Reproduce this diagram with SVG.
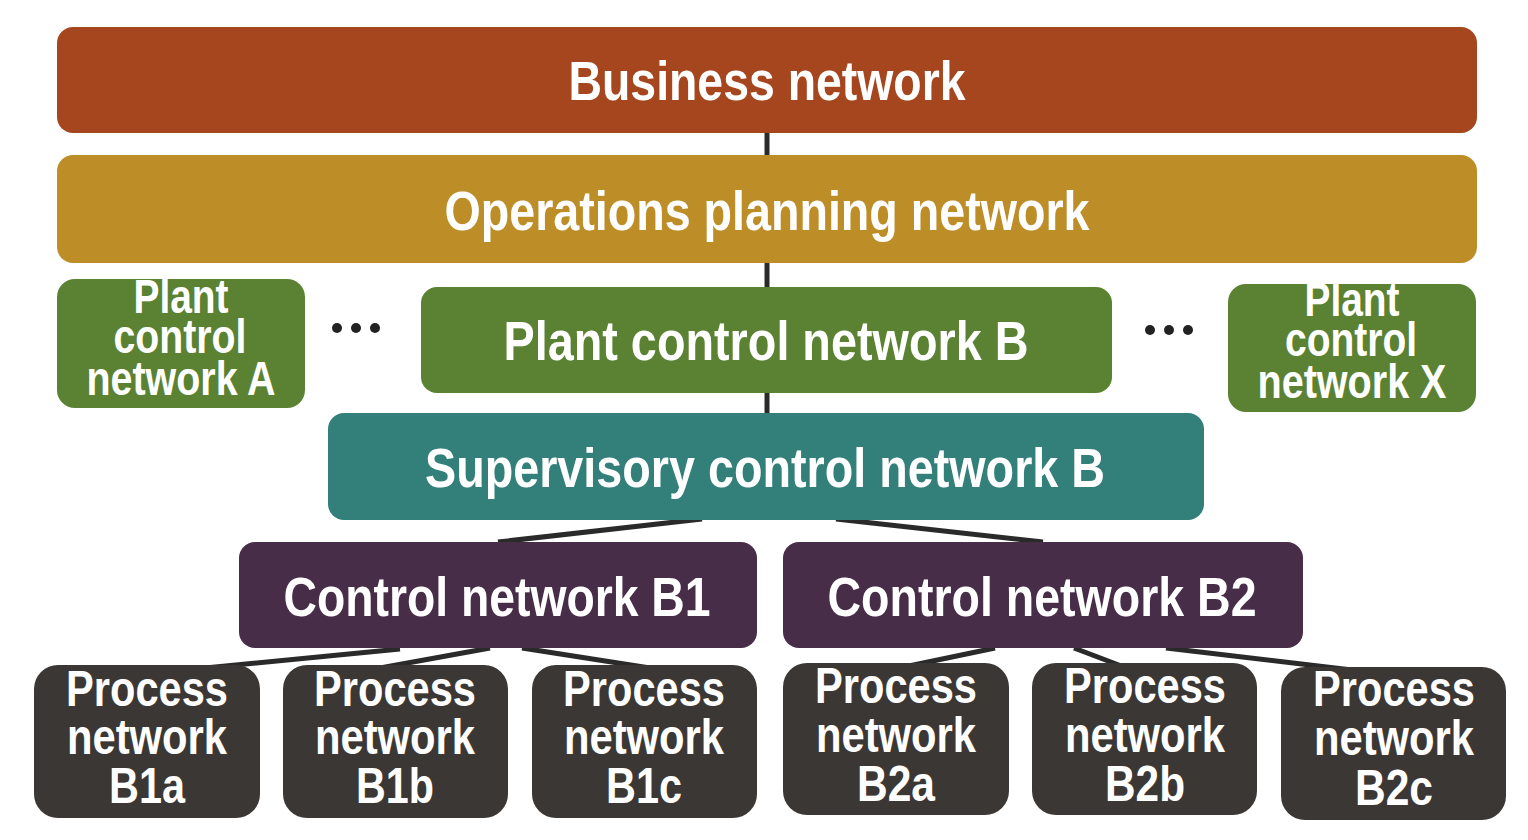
<svg xmlns="http://www.w3.org/2000/svg" width="1528" height="840" viewBox="0 0 1528 840">
<style>
.t{font-family:"Liberation Sans",Arial,sans-serif;font-weight:bold;fill:#fff;text-anchor:middle}
.big{font-size:56px}
.mid{font-size:48px}
.proc{font-size:50px}
.conn{stroke:#2a2a2a;stroke-width:5;fill:none;stroke-linecap:butt}
.dot{fill:#222}
</style>
<rect width="1528" height="840" fill="#fff"/>
<g id="connectors">
<line class="conn" x1="767" y1="120" x2="767" y2="170"/>
<line class="conn" x1="767" y1="250" x2="767" y2="300"/>
<line class="conn" x1="767" y1="380" x2="767" y2="425"/>
<line class="conn" x1="702" y1="519" x2="498" y2="542"/>
<line class="conn" x1="836" y1="519" x2="1043" y2="542"/>
<line class="conn" x1="400" y1="649" x2="205" y2="668"/>
<line class="conn" x1="490" y1="648" x2="380" y2="668"/>
<line class="conn" x1="522" y1="648" x2="650" y2="668"/>
<line class="conn" x1="995" y1="648" x2="904" y2="667"/>
<line class="conn" x1="1074" y1="648" x2="1124" y2="667"/>
<line class="conn" x1="1166" y1="648" x2="1352" y2="670"/>
</g>
<g id="business">
<rect x="57" y="27" width="1420" height="106" rx="16" fill="#A5461E"/>
<text class="t big" x="767" y="100" textLength="397" lengthAdjust="spacingAndGlyphs">Business network</text>
</g>
<g id="operations">
<rect x="57" y="155" width="1420" height="108" rx="16" fill="#BD8D28"/>
<text class="t big" x="767" y="230" textLength="645" lengthAdjust="spacingAndGlyphs">Operations planning network</text>
</g>
<g id="plantA">
<rect x="57" y="279" width="248" height="129" rx="18" fill="#5A8232"/>
<text class="t mid" x="181" y="313" textLength="95" lengthAdjust="spacingAndGlyphs">Plant</text>
<text class="t mid" x="180" y="353" textLength="133" lengthAdjust="spacingAndGlyphs">control</text>
<text class="t mid" x="181" y="395" textLength="189" lengthAdjust="spacingAndGlyphs">network A</text>
</g>
<g id="dotsLeft">
<circle class="dot" cx="337" cy="328" r="5"/>
<circle class="dot" cx="356" cy="328" r="5"/>
<circle class="dot" cx="375" cy="328" r="5"/>
</g>
<g id="plantB">
<rect x="421" y="287" width="691" height="106" rx="16" fill="#5A8232"/>
<text class="t big" x="766" y="360" textLength="525" lengthAdjust="spacingAndGlyphs">Plant control network B</text>
</g>
<g id="dotsRight">
<circle class="dot" cx="1150" cy="330" r="5"/>
<circle class="dot" cx="1169" cy="330" r="5"/>
<circle class="dot" cx="1188" cy="330" r="5"/>
</g>
<g id="plantX">
<rect x="1228" y="284" width="248" height="128" rx="18" fill="#5A8232"/>
<text class="t mid" x="1352" y="316" textLength="95" lengthAdjust="spacingAndGlyphs">Plant</text>
<text class="t mid" x="1351" y="356" textLength="132" lengthAdjust="spacingAndGlyphs">control</text>
<text class="t mid" x="1352" y="398" textLength="189" lengthAdjust="spacingAndGlyphs">network X</text>
</g>
<g id="supervisory">
<rect x="328" y="413" width="876" height="107" rx="16" fill="#33807B"/>
<text class="t big" x="765" y="487" textLength="680" lengthAdjust="spacingAndGlyphs">Supervisory control network B</text>
</g>
<g id="controlB1">
<rect x="239" y="542" width="518" height="106" rx="16" fill="#482D48"/>
<text class="t big" x="497" y="616" textLength="427" lengthAdjust="spacingAndGlyphs">Control network B1</text>
</g>
<g id="controlB2">
<rect x="783" y="542" width="520" height="106" rx="16" fill="#482D48"/>
<text class="t big" x="1042" y="616" textLength="429" lengthAdjust="spacingAndGlyphs">Control network B2</text>
</g>
<g id="processB1a">
<rect x="34" y="665" width="226" height="153" rx="24" fill="#3B3735"/>
<text class="t proc" x="147" y="706" textLength="162" lengthAdjust="spacingAndGlyphs">Process</text>
<text class="t proc" x="147" y="754" textLength="160" lengthAdjust="spacingAndGlyphs">network</text>
<text class="t proc" x="147" y="803" textLength="76" lengthAdjust="spacingAndGlyphs">B1a</text>
</g>
<g id="processB1b">
<rect x="283" y="665" width="225" height="153" rx="24" fill="#3B3735"/>
<text class="t proc" x="395" y="706" textLength="162" lengthAdjust="spacingAndGlyphs">Process</text>
<text class="t proc" x="395" y="754" textLength="160" lengthAdjust="spacingAndGlyphs">network</text>
<text class="t proc" x="395" y="803" textLength="78" lengthAdjust="spacingAndGlyphs">B1b</text>
</g>
<g id="processB1c">
<rect x="532" y="665" width="225" height="153" rx="24" fill="#3B3735"/>
<text class="t proc" x="644" y="706" textLength="162" lengthAdjust="spacingAndGlyphs">Process</text>
<text class="t proc" x="644" y="754" textLength="160" lengthAdjust="spacingAndGlyphs">network</text>
<text class="t proc" x="644" y="803" textLength="76" lengthAdjust="spacingAndGlyphs">B1c</text>
</g>
<g id="processB2a">
<rect x="783" y="663" width="226" height="152" rx="24" fill="#3B3735"/>
<text class="t proc" x="896" y="703" textLength="162" lengthAdjust="spacingAndGlyphs">Process</text>
<text class="t proc" x="896" y="752" textLength="160" lengthAdjust="spacingAndGlyphs">network</text>
<text class="t proc" x="896" y="801" textLength="78" lengthAdjust="spacingAndGlyphs">B2a</text>
</g>
<g id="processB2b">
<rect x="1032" y="663" width="225" height="152" rx="24" fill="#3B3735"/>
<text class="t proc" x="1145" y="703" textLength="162" lengthAdjust="spacingAndGlyphs">Process</text>
<text class="t proc" x="1145" y="752" textLength="160" lengthAdjust="spacingAndGlyphs">network</text>
<text class="t proc" x="1145" y="801" textLength="80" lengthAdjust="spacingAndGlyphs">B2b</text>
</g>
<g id="processB2c">
<rect x="1281" y="667" width="225" height="153" rx="24" fill="#3B3735"/>
<text class="t proc" x="1394" y="706" textLength="162" lengthAdjust="spacingAndGlyphs">Process</text>
<text class="t proc" x="1394" y="755" textLength="160" lengthAdjust="spacingAndGlyphs">network</text>
<text class="t proc" x="1394" y="805" textLength="78" lengthAdjust="spacingAndGlyphs">B2c</text>
</g>
</svg>
